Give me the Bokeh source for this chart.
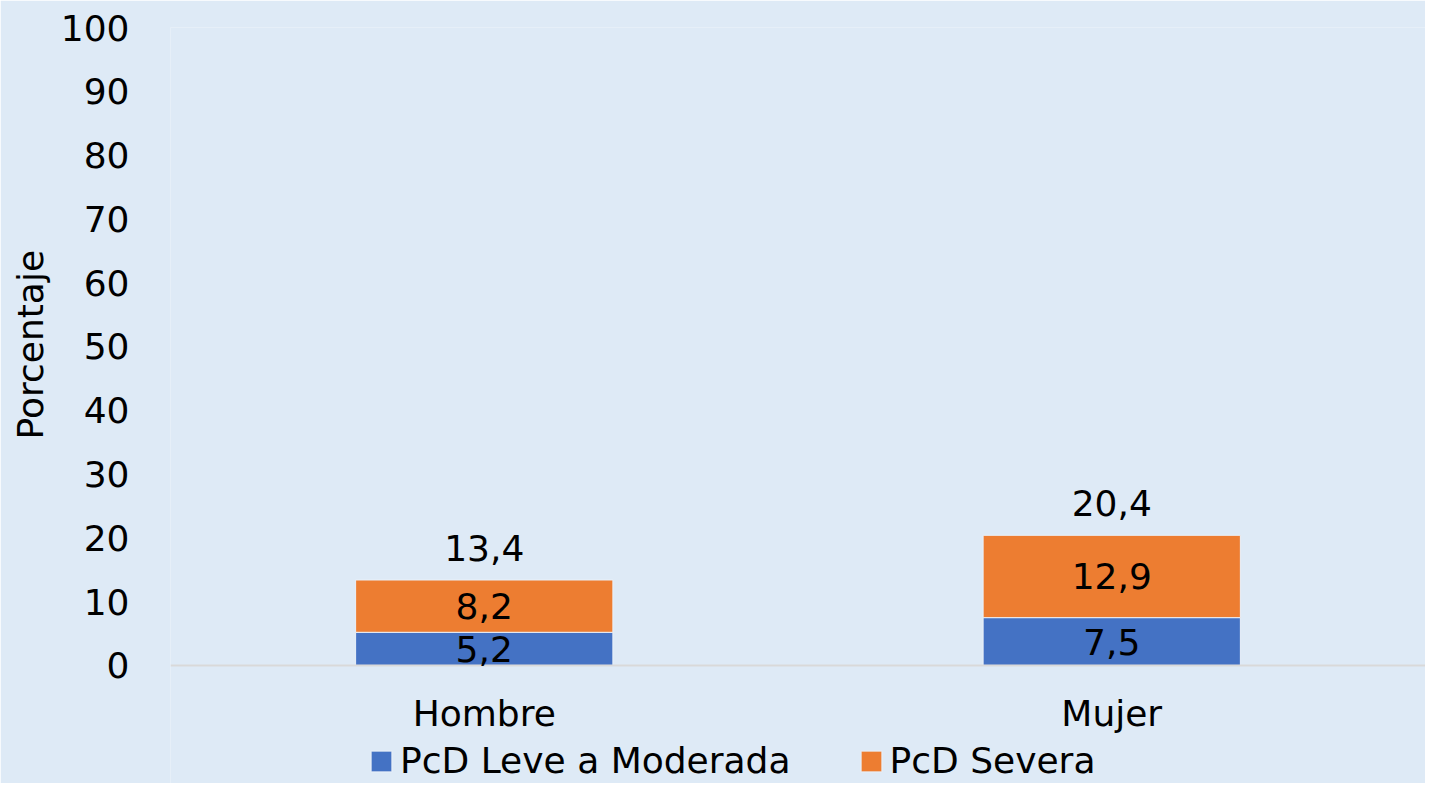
from bokeh.plotting import figure
from bokeh.models import (ColumnDataSource, LabelSet, Legend, LegendItem,
                          FactorRange, Range1d, FixedTicker, Title)
from bokeh.core.properties import value
from bokeh.embed import file_html
from bokeh.resources import INLINE

# ---- data ----
categories = ["Hombre", "Mujer"]
leve = [5.2, 7.5]
severa = [8.2, 12.9]
total = [13.4, 20.4]
series_names = ["PcD Leve a Moderada", "PcD Severa"]
colors = ["#4472C4", "#ED7D31"]
y_ticks = [0, 10, 20, 30, 40, 50, 60, 70, 80, 90, 100]
y_label = "Porcentaje"

BG = "#DEEAF6"
FONT = "DejaVu Sans"
FS = "36px"

def fmt(v):
    return f"{v:.1f}".replace(".", ",")

src = ColumnDataSource(dict(
    cat=categories,
    leve=leve,
    severa=severa,
    total=total,
    leve_mid=[a / 2 for a in leve],
    sev_mid=[a + b / 2 for a, b in zip(leve, severa)],
    leve_lbl=[fmt(v) for v in leve],
    sev_lbl=[fmt(v) for v in severa],
    tot_lbl=[fmt(v) for v in total],
))

p = figure(
    x_range=FactorRange(*categories, range_padding=0),
    y_range=Range1d(-18.5, 100),
    width=1425, height=783,
    min_border_left=165, min_border_right=0,
    min_border_top=27, min_border_bottom=0,
    output_backend="svg", toolbar_location=None,
    background_fill_color=BG, border_fill_color=BG,
    outline_line_color=None,
)

rs = p.vbar_stack(["leve", "severa"], x="cat", width=0.41, source=src,
                  fill_color=colors, line_color="#EAF1F9", line_width=1)

p.xgrid.grid_line_color = None
p.ygrid.grid_line_color = None

# x axis (drawn at y = 0)
xa = p.xaxis[0]
xa.fixed_location = 0
xa.axis_line_color = "#D9D9D9"
xa.axis_line_width = 2
xa.major_tick_line_color = None
xa.minor_tick_line_color = None
xa.major_label_text_font = FONT
xa.major_label_text_font_size = FS
xa.major_label_text_color = "black"
xa.major_label_standoff = 22

# y axis
ya = p.yaxis[0]
ya.ticker = FixedTicker(ticks=y_ticks)
ya.axis_line_color = None
ya.major_tick_line_color = None
ya.minor_tick_line_color = None
ya.major_label_text_font = FONT
ya.major_label_text_font_size = FS
ya.major_label_text_color = "black"
ya.major_label_standoff = 35

p.add_layout(Title(text=y_label, align="left", offset=344,
                   text_font=FONT, text_font_size=FS, text_font_style="normal",
                   text_color="black", standoff=14), "left")

common = dict(source=src, text_font=value(FONT), text_font_size=value(FS),
              text_color="black", text_align="center", text_baseline="middle")
p.add_layout(LabelSet(x="cat", y="leve_mid", text="leve_lbl", **common))
p.add_layout(LabelSet(x="cat", y="sev_mid", text="sev_lbl", **common))
p.add_layout(LabelSet(x="cat", y="total", text="tot_lbl", y_offset=32, **common))

legend = Legend(
    items=[LegendItem(label=n, renderers=[r]) for n, r in zip(series_names, rs)],
    orientation="horizontal",
    location=(198, 2),
    background_fill_alpha=0, border_line_color=None,
    padding=0, margin=0, spacing=67,
    glyph_width=26, glyph_height=26, label_standoff=6,
    label_text_font=FONT, label_text_font_size=FS, label_text_color="black",
)
p.add_layout(legend, "center")

open("out.html", "w").write(file_html(p, INLINE))
